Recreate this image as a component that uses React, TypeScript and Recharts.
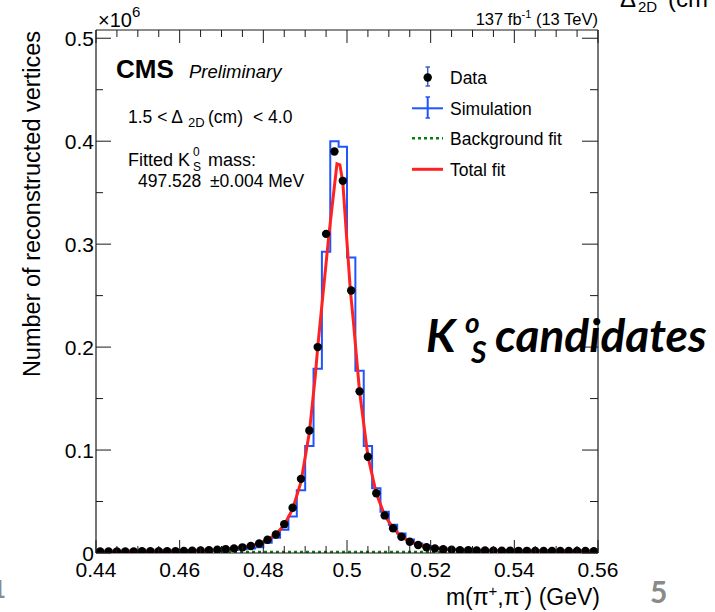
import { ComposedChart, Line, Scatter, XAxis, YAxis } from "recharts";

// m(pi+,pi-) histogram, 2 MeV bins (bin centres in GeV)
const massBins = [
  0.441, 0.443, 0.445, 0.447, 0.449, 0.451, 0.453, 0.455, 0.457, 0.459,
  0.461, 0.463, 0.465, 0.467, 0.469, 0.471, 0.473, 0.475, 0.477, 0.479,
  0.481, 0.483, 0.485, 0.487, 0.489, 0.491, 0.493, 0.495, 0.497, 0.499,
  0.501, 0.503, 0.505, 0.507, 0.509, 0.511, 0.513, 0.515, 0.517, 0.519,
  0.521, 0.523, 0.525, 0.527, 0.529, 0.531, 0.533, 0.535, 0.537, 0.539,
  0.541, 0.543, 0.545, 0.547, 0.549, 0.551, 0.553, 0.555, 0.557, 0.559,
];
const binWidth = 0.002;

// vertices per bin, x10^6
const dataCounts = [
  0.0015, 0.0015, 0.0016, 0.0016, 0.0016, 0.0017, 0.0017, 0.0017, 0.0018, 0.0018,
  0.0019, 0.0022, 0.0025, 0.0028, 0.0032, 0.0038, 0.0045, 0.0055, 0.0068, 0.0092,
  0.0128, 0.018, 0.028, 0.044, 0.072, 0.119, 0.2, 0.31, 0.39, 0.3615,
  0.255, 0.157, 0.0935, 0.058, 0.0365, 0.024, 0.0158, 0.011, 0.0078, 0.0056,
  0.0045, 0.0037, 0.0031, 0.0028, 0.0026, 0.0025, 0.0024, 0.0023, 0.0022, 0.0022,
  0.0021, 0.0021, 0.002, 0.002, 0.002, 0.0019, 0.0019, 0.0019, 0.0019, 0.0018,
];
const simCounts = [
  0.0012, 0.0012, 0.0012, 0.0013, 0.0013, 0.0013, 0.0014, 0.0014, 0.0015, 0.0015,
  0.0016, 0.0017, 0.0018, 0.0019, 0.0021, 0.0025, 0.003, 0.0036, 0.0043, 0.0056,
  0.01, 0.0148, 0.0225, 0.0355, 0.061, 0.104, 0.179, 0.2925, 0.4, 0.3945,
  0.287, 0.177, 0.104, 0.063, 0.04, 0.0275, 0.019, 0.013, 0.0092, 0.0068,
  0.0052, 0.0042, 0.0035, 0.0031, 0.0028, 0.0026, 0.0024, 0.0023, 0.0022, 0.0021,
  0.002, 0.002, 0.0019, 0.0019, 0.0018, 0.0018, 0.0018, 0.0017, 0.0017, 0.0017,
];

// total fit curve (signal + background)
const fitMass = [
  0.44, 0.45, 0.46, 0.465, 0.469, 0.472, 0.475, 0.477, 0.479, 0.481,
  0.483, 0.485, 0.487, 0.489, 0.491, 0.4924, 0.493, 0.4943, 0.4957, 0.4976,
  0.4983, 0.499, 0.5008, 0.5015, 0.503, 0.505, 0.507, 0.509, 0.511, 0.513,
  0.515, 0.517, 0.519, 0.521, 0.525, 0.53, 0.54, 0.55, 0.56,
];
const fitTotal = [
  0.0017, 0.0019, 0.0022, 0.0026, 0.0032, 0.0041, 0.0055, 0.0069, 0.0092, 0.0127,
  0.0182, 0.0272, 0.0425, 0.069, 0.117, 0.171, 0.2, 0.253, 0.31, 0.378,
  0.377, 0.36, 0.255, 0.226, 0.157, 0.094, 0.058, 0.0365, 0.0242, 0.016,
  0.0112, 0.008, 0.006, 0.0047, 0.0033, 0.0027, 0.0023, 0.0021, 0.0019,
];

// background component of the fit
const bkgMass = [0.44, 0.5, 0.56];
const bkgFit = [0.0009, 0.0009, 0.0009];

const xMajorTicks = [0.44, 0.46, 0.48, 0.5, 0.52, 0.54, 0.56];
const xMinorTicks = [
  0.445, 0.45, 0.455, 0.465, 0.47, 0.475, 0.485, 0.49, 0.495,
  0.505, 0.51, 0.515, 0.525, 0.53, 0.535, 0.545, 0.55, 0.555,
];
const yMajorTicks = [0, 0.1, 0.2, 0.3, 0.4, 0.5];
const yMinorTicks = [0.05, 0.15, 0.25, 0.35, 0.45];

const xTicks = [...xMajorTicks, ...xMinorTicks].sort((a, b) => a - b);
const yTicks = [...yMajorTicks, ...yMinorTicks].sort((a, b) => a - b);

const dataPoints = massBins.map((m, i) => ({ x: m, y: dataCounts[i] }));
const simSteps = massBins.map((m, i) => ({ x: m - binWidth / 2, y: simCounts[i] }));
simSteps.push({ x: massBins[massBins.length - 1] + binWidth / 2, y: simCounts[simCounts.length - 1] });
const fitPoints = fitMass.map((m, i) => ({ x: m, y: fitTotal[i] }));
const bkgPoints = bkgMass.map((m, i) => ({ x: m, y: bkgFit[i] }));

const FONT = '"Liberation Sans", Arial, Helvetica, sans-serif';
const FRAME = "#1a1a1a";
const BLUE = "#1f55ff";
const RED = "#ff2222";
const GREEN = "#0a7d0a";

const isIn = (v: number, list: number[]) => list.some((t) => Math.abs(t - v) < 1e-9);

function BottomTick({ x, y, payload }: any) {
  const major = isIn(payload.value, xMajorTicks);
  return (
    <g>
      <line x1={x} y1={y} x2={x} y2={y - (major ? 13 : 7)} stroke={FRAME} />
      {major && (
        <text x={x} y={y + 24} textAnchor="middle" fontSize={21} fontFamily={FONT} fill="#000">
          {String(payload.value)}
        </text>
      )}
    </g>
  );
}

function TopTick({ x, y, payload }: any) {
  const major = isIn(payload.value, xMajorTicks);
  return <line x1={x} y1={y} x2={x} y2={y + (major ? 13 : 7)} stroke={FRAME} />;
}

function LeftTick({ x, y, payload }: any) {
  const major = isIn(payload.value, yMajorTicks);
  return (
    <g>
      <line x1={x} y1={y} x2={x + (major ? 15 : 7)} y2={y} stroke={FRAME} />
      {major && (
        <text x={x - 2} y={y + 7.5} textAnchor="end" fontSize={21} fontFamily={FONT} fill="#000">
          {String(payload.value)}
        </text>
      )}
    </g>
  );
}

function RightTick({ x, y, payload }: any) {
  const major = isIn(payload.value, yMajorTicks);
  return <line x1={x} y1={y} x2={x - (major ? 16 : 8)} y2={y} stroke={FRAME} />;
}

const dot = ({ cx, cy }: any) => <circle cx={cx} cy={cy} r={4.2} fill="#000" />;

function Overlay() {
  return (
    <svg
      width={715}
      height={612}
      style={{ position: "absolute", left: 0, top: 0, pointerEvents: "none" }}
      fontFamily={FONT}
    >
      {/* axis titles */}
      <text x={600} y={605} textAnchor="end" fontSize={23}>
        m(π<tspan fontSize={15} dy={-9}>+</tspan>
        <tspan dy={9}>,π</tspan>
        <tspan fontSize={15} dy={-9}>-</tspan>
        <tspan dy={9}>) (GeV)</tspan>
      </text>
      <text transform="translate(40,31) rotate(-90)" textAnchor="end" fontSize={23.5}>
        Number of reconstructed vertices
      </text>
      <text x={98} y={27} fontSize={20}>
        ×10<tspan fontSize={15} dy={-10}>6</tspan>
      </text>
      <text x={598} y={25} textAnchor="end" fontSize={16.5}>
        137 fb<tspan fontSize={11} dy={-7}>-1</tspan>
        <tspan dy={7}> (13 TeV)</tspan>
      </text>

      {/* CMS label and fit info */}
      <text x={116} y={78} fontSize={26} fontWeight="bold">CMS</text>
      <text x={189} y={78} fontSize={18.5} fontStyle="italic">Preliminary</text>
      <text x={128} y={123} fontSize={17.5}>
        1.5 &lt; Δ<tspan x={188} dy={4} fontSize={13}>2D</tspan>
        <tspan x={208} dy={-4}>(cm)</tspan>
        <tspan x={253}>&lt; 4.0</tspan>
      </text>
      <text x={128} y={166} fontSize={18}>
        Fitted K<tspan x={193} dy={-10} fontSize={12}>0</tspan>
        <tspan x={193} dy={15} fontSize={12}>S</tspan>
        <tspan x={208} dy={-5}>mass:</tspan>
      </text>
      <text x={138} y={187} fontSize={17.5}>
        497.528<tspan x={210}>±0.004 MeV</tspan>
      </text>

      {/* legend */}
      <line x1={427.7} y1={67} x2={427.7} y2={86} stroke="#3a5fcd" strokeWidth={1.5} />
      <line x1={425.5} y1={67} x2={430} y2={67} stroke="#3a5fcd" strokeWidth={1.5} />
      <line x1={425.5} y1={86} x2={430} y2={86} stroke="#3a5fcd" strokeWidth={1.5} />
      <circle cx={427.7} cy={77.5} r={4.2} fill="#000" />
      <text x={450} y={84} fontSize={17.5}>Data</text>

      <line x1={412} y1={108.3} x2={443} y2={108.3} stroke={BLUE} strokeWidth={2} />
      <line x1={427.7} y1={97} x2={427.7} y2={118} stroke={BLUE} strokeWidth={2} />
      <line x1={425.5} y1={97} x2={430} y2={97} stroke={BLUE} strokeWidth={1.5} />
      <line x1={425.5} y1={118} x2={430} y2={118} stroke={BLUE} strokeWidth={1.5} />
      <text x={450} y={115} fontSize={17.5}>Simulation</text>

      <line x1={412} y1={138.3} x2={443} y2={138.3} stroke={GREEN} strokeWidth={2.5} strokeDasharray="3 3" />
      <text x={450} y={145} fontSize={17.5}>Background fit</text>

      <line x1={412} y1={169.3} x2={443} y2={169.3} stroke={RED} strokeWidth={3} />
      <text x={450} y={176} fontSize={17.5}>Total fit</text>

      {/* slide annotations */}
      <text x={426} y={352} fontFamily="Lato, sans-serif" fontWeight="bold" fontStyle="italic" fontSize={46} fill="#000">
        K<tspan x={465} y={333} fontSize={28}>o</tspan>
        <tspan x={471} y={363} fontSize={30}>S</tspan>
        <tspan x={495} y={352}>candidates</tspan>
      </text>
      <text x={620} y={7} fontSize={24}>
        Δ<tspan x={638} dy={5} fontSize={15}>2D</tspan>
        <tspan x={668} dy={-5}>(cm</tspan>
      </text>
      <text x={650} y={603} fontFamily="Lato, sans-serif" fontWeight="bold" fontSize={30} fill="#8a8a8a">5</text>
      <text x={-8} y={598} fontFamily="Lato, sans-serif" fontWeight="bold" fontSize={24} fill="#8a8a8a">1</text>
    </svg>
  );
}

export default function App() {
  return (
    <div style={{ position: "absolute", left: 0, top: 0, width: 715, height: 612, background: "#fff" }}>
      <ComposedChart width={715} height={612} margin={{ top: 29, right: 116, bottom: 58, left: 95 }}>
        <XAxis
          dataKey="x"
          type="number"
          domain={[0.44, 0.56]}
          allowDataOverflow
          ticks={xTicks}
          interval={0}
          height={1}
          tickSize={0}
          tickMargin={0}
          tickLine={false}
          tick={<BottomTick />}
          axisLine={{ stroke: FRAME, strokeWidth: 1.2 }}
        />
        <XAxis
          xAxisId="top"
          orientation="top"
          dataKey="x"
          type="number"
          domain={[0.44, 0.56]}
          allowDataOverflow
          ticks={xTicks}
          interval={0}
          height={1}
          tickSize={0}
          tickMargin={0}
          tickLine={false}
          tick={<TopTick />}
          axisLine={{ stroke: FRAME, strokeWidth: 1.2 }}
        />
        <YAxis
          type="number"
          domain={[0, 0.508]}
          allowDataOverflow
          ticks={yTicks}
          interval={0}
          width={1}
          tickSize={0}
          tickMargin={0}
          tickLine={false}
          tick={<LeftTick />}
          axisLine={{ stroke: FRAME, strokeWidth: 1.2 }}
        />
        <YAxis
          yAxisId="right"
          orientation="right"
          type="number"
          domain={[0, 0.508]}
          allowDataOverflow
          ticks={yTicks}
          interval={0}
          width={1}
          tickSize={0}
          tickMargin={0}
          tickLine={false}
          tick={<RightTick />}
          axisLine={{ stroke: FRAME, strokeWidth: 1.2 }}
        />
        <Line
          data={simSteps}
          dataKey="y"
          type="stepAfter"
          stroke={BLUE}
          strokeWidth={2}
          dot={false}
          activeDot={false}
          isAnimationActive={false}
        />
        <Line
          data={bkgPoints}
          dataKey="y"
          type="linear"
          stroke={GREEN}
          strokeWidth={2.5}
          strokeDasharray="3 3"
          dot={false}
          activeDot={false}
          isAnimationActive={false}
        />
        <Line
          data={fitPoints}
          dataKey="y"
          type="linear"
          stroke={RED}
          strokeWidth={3}
          dot={false}
          activeDot={false}
          isAnimationActive={false}
        />
        <Scatter data={dataPoints} dataKey="y" shape={dot} isAnimationActive={false} />
      </ComposedChart>
      <Overlay />
    </div>
  );
}
